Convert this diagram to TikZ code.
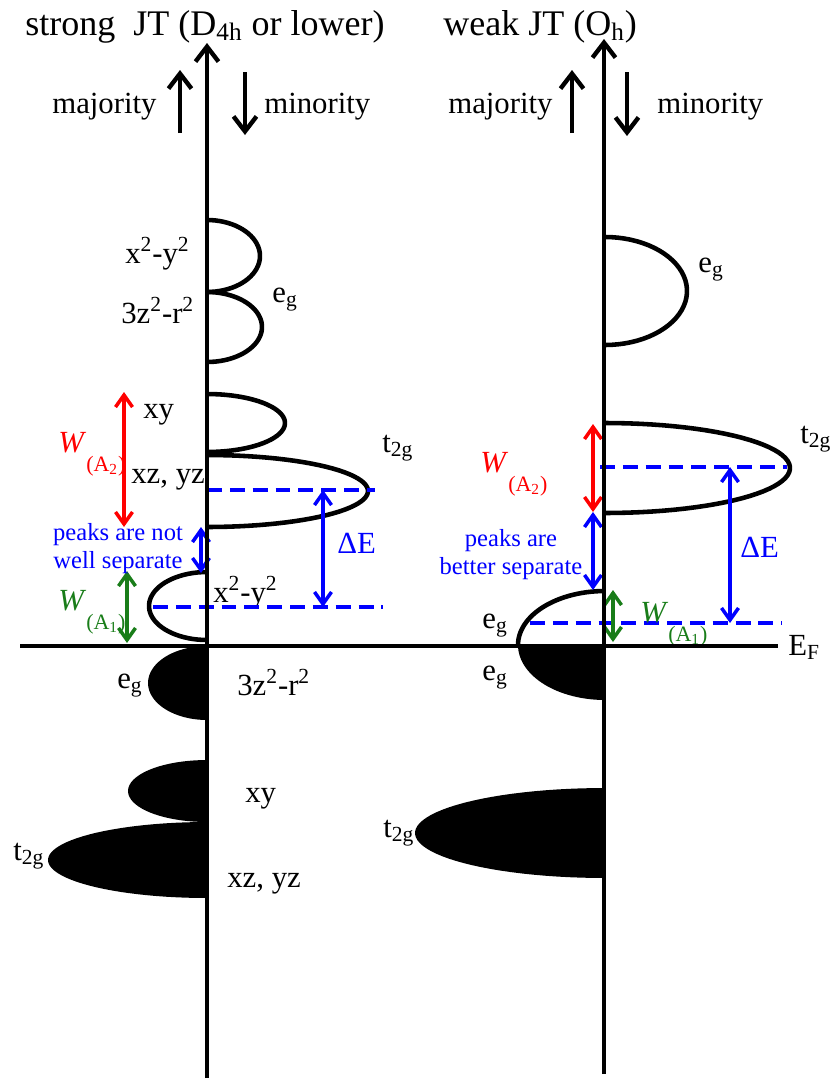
\documentclass[tikz,border=0pt]{standalone}
\usepackage{fontspec}
\setmainfont{Liberation Serif}
\usepackage{xcolor}
\usetikzlibrary{arrows.meta}
\definecolor{wgreen}{RGB}{25,125,25}
\tikzset{
  every picture/.style={line join=round, >=Stealth},
  axisline/.style={line width=2.5pt, -{Straight Barb[length=3mm,width=4.6mm]}},
  fermi/.style={line width=2.5pt},
  lobe/.style={line width=2.6pt},
  band/.style={fill=black},
  level/.style={blue, line width=1.9pt, dash pattern=on 8.5pt off 4.5pt},
  gap/.style={line width=2pt, {Straight Barb[length=2.4mm,width=3.4mm]}-{Straight Barb[length=2.4mm,width=3.4mm]}},
  ttl/.style={font=\fontsize{20.5}{24}\selectfont, inner sep=0pt},
  lbl/.style={font=\fontsize{17.5}{20}\selectfont, inner sep=0pt},
  note/.style={font=\fontsize{14}{16}\selectfont, inner sep=0pt, blue, align=center},
}
\newcommand{\wsub}[1]{\textit{W}\raisebox{-11pt}{\fontsize{12.5}{14}\selectfont(A\textsubscript{#1})}}

\begin{document}
\begin{tikzpicture}[x=0.02cm,y=-0.02cm]
\useasboundingbox (0,0) rectangle (829,1079);

% ---- strong JT panel
\node[ttl,anchor=base west] (ttlL) at (25,35) {strong\ \ JT (D\textsubscript{4h} or lower)};
\node[lbl,anchor=base west] (majL) at (52,113) {majority};
\node[lbl,anchor=base west] (minL) at (264,113) {minority};
\coordinate (upL0) at (180,133); \coordinate (upL1) at (180,70);
\coordinate (dnL0) at (245,72);  \coordinate (dnL1) at (245,135);
\draw[axisline] (upL0) -- (upL1);
\draw[axisline] (dnL0) -- (dnL1);

% empty lobes (minority)
\draw[lobe] plot[domain=-90:90,samples=40] ({207+53*cos(\x)},{256+36*sin(\x)});
\draw[lobe] plot[domain=-90:90,samples=40] ({207+55*cos(\x)},{327+35*sin(\x)});
\draw[lobe] plot[domain=-90:90,samples=40] ({207+78*cos(\x)},{423+29*sin(\x)});
\draw[lobe] plot[domain=-90:90,samples=50] ({207+161*cos(\x)},{491+36*sin(\x)});
\draw[lobe] plot[domain=90:270,samples=40] ({207+58*cos(\x)},{606+34*sin(\x)});
% filled lobes (majority)
\fill[band] plot[domain=90:270,samples=40] ({207+59*cos(\x)},{683+37*sin(\x)}) -- cycle;
\fill[band] plot[domain=90:270,samples=40] ({207+79*cos(\x)},{791+31*sin(\x)}) -- cycle;
\fill[band] plot[domain=90:270,samples=50] ({207+159*cos(\x)},{860+38*sin(\x)}) -- cycle;

\node[lbl,anchor=base west] (x2L) at (125,263) {x\textsuperscript{2}-y\textsuperscript{2}};
\node[lbl,anchor=base west] (z2L) at (121,323) {3z\textsuperscript{2}-r\textsuperscript{2}};
\node[lbl,anchor=base west] (egL) at (272,302) {e\textsubscript{g}};
\node[lbl,anchor=base west] (xyL) at (143,418) {xy};
\node[lbl,anchor=base west] (xzL) at (131,483) {xz, yz};
\node[lbl,anchor=base west] (t2gL) at (382,452) {t\textsubscript{2g}};
\node[lbl,anchor=base west] (x2Ld) at (213,602) {x\textsuperscript{2}-y\textsuperscript{2}};
\node[lbl,anchor=base west] (egLb) at (117,688) {e\textsubscript{g}};
\node[lbl,anchor=base west] (z2Lb) at (237,695) {3z\textsuperscript{2}-r\textsuperscript{2}};
\node[lbl,anchor=base west] (xyLb) at (245,802) {xy};
\node[lbl,anchor=base west] (t2gLb) at (13,860) {t\textsubscript{2g}};
\node[lbl,anchor=base west] (xzLb) at (227,887) {xz, yz};

% widths and splitting
\draw[level] (207,490) -- (375,490);
\draw[level] (153,607) -- (383,607);
\coordinate (rdL0) at (124,392); \coordinate (rdL1) at (124,527);
\coordinate (blL0) at (201,527); \coordinate (blL1) at (201,573);
\coordinate (grL0) at (127,571); \coordinate (grL1) at (127,643);
\coordinate (deL0) at (323,490); \coordinate (deL1) at (323,607);
\draw[gap,red] (rdL0) -- (rdL1);
\draw[gap,blue] (blL0) -- (blL1);
\draw[gap,wgreen] (grL0) -- (grL1);
\draw[gap,blue] (deL0) -- (deL1);
\node[lbl,red,anchor=base west] (wA2L) at (58,452) {\wsub{2}};
\node[lbl,wgreen,anchor=base west] (wA1L) at (58,610) {\wsub{1}};
\node[note] (peakL) at (118,549) {peaks are not\\well separate};
\node[lbl,blue,anchor=base west] (dEL) at (337,553) {ΔE};

% ---- weak JT panel
\node[ttl,anchor=base west] (ttlR) at (443,35) {weak JT (O\textsubscript{h})};
\node[lbl,anchor=base west] (majR) at (448,113) {majority};
\node[lbl,anchor=base west] (minR) at (657,113) {minority};
\coordinate (upR0) at (572,133); \coordinate (upR1) at (572,70);
\coordinate (dnR0) at (627,72);  \coordinate (dnR1) at (627,136);
\draw[axisline] (upR0) -- (upR1);
\draw[axisline] (dnR0) -- (dnR1);

\draw[lobe] plot[domain=-90:90,samples=40] ({605+82*cos(\x)},{291+54*sin(\x)});
\draw[lobe] plot[domain=-90:90,samples=50] ({605+185*cos(\x)},{468+45*sin(\x)});
\draw[lobe] plot[domain=180:270,samples=30] ({605+87*cos(\x)},{645+54*sin(\x)});
\fill[band] plot[domain=90:180,samples=30] ({605+87*cos(\x)},{645+55*sin(\x)}) -- (605,645) -- cycle;
\fill[band] plot[domain=90:270,samples=50] ({605+190*cos(\x)},{833+45*sin(\x)}) -- cycle;

\node[lbl,anchor=base west] (egR) at (698,272) {e\textsubscript{g}};
\node[lbl,anchor=base west] (t2gR) at (800,443) {t\textsubscript{2g}};
\node[lbl,anchor=base west] (egRa) at (482,628) {e\textsubscript{g}};
\node[lbl,anchor=base west] (egRb) at (482,680) {e\textsubscript{g}};
\node[lbl,anchor=base west] (t2gRb) at (383,837) {t\textsubscript{2g}};

\draw[level] (600,467) -- (787,467);
\draw[level] (530,623) -- (782,623);
\coordinate (rdR0) at (593,424); \coordinate (rdR1) at (593,512);
\coordinate (blR0) at (593,512); \coordinate (blR1) at (593,590);
\coordinate (grR0) at (613,590); \coordinate (grR1) at (613,642);
\coordinate (deR0) at (730,467); \coordinate (deR1) at (730,623);
\draw[gap,red] (rdR0) -- (rdR1);
\draw[gap,blue] (blR0) -- (blR1);
\draw[gap,wgreen] (grR0) -- (grR1);
\draw[gap,blue] (deR0) -- (deR1);
\node[lbl,red,anchor=base west] (wA2R) at (480,472) {\wsub{2}};
\node[lbl,wgreen,anchor=base west] (wA1R) at (640,622) {\wsub{1}};
\node[note] (peakR) at (511,555) {peaks are\\better separate};
\node[lbl,blue,anchor=base west] (dER) at (740,557) {ΔE};

% ---- axes and Fermi level
\coordinate (axL0) at (207,1078); \coordinate (axL1) at (207,43);
\coordinate (axR0) at (604,1074); \coordinate (axR1) at (604,39);
\coordinate (ef0) at (20,646);    \coordinate (ef1) at (778,646);
\draw[axisline] (axL0) -- (axL1);
\draw[axisline] (axR0) -- (axR1);
\draw[fermi] (ef0) -- (ef1);
\node[lbl,anchor=base west] (EF) at (788,655) {E\textsubscript{F}};
\end{tikzpicture}
\end{document}
